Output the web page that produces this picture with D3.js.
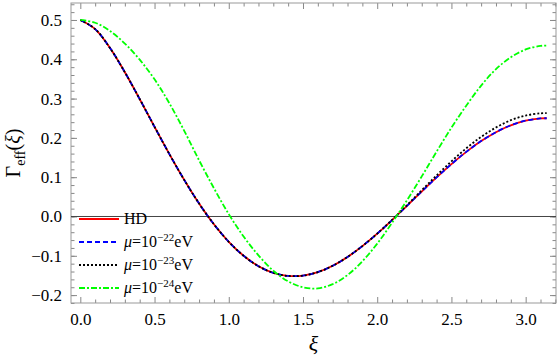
<!DOCTYPE html>
<html>
<head>
<meta charset="utf-8">
<script src="https://cdn.jsdelivr.net/npm/d3@7"></script>
<style>
body { margin: 0; background: #fff; }
svg text { font-family: "Liberation Serif", "DejaVu Serif", serif !important; fill: #000; }
</style>
</head>
<body>
<div id="chart"></div>
<script>
var width = 560;
var height = 361;

// angular separation xi (rad)
var xiValues = [0, 0.1, 0.2, 0.3, 0.4, 0.5, 0.6, 0.7, 0.8, 0.9, 1.0, 1.1, 1.2, 1.3, 1.4, 1.5,
    1.6, 1.7, 1.8, 1.9, 2.0, 2.1, 2.2, 2.3, 2.4, 2.5, 2.6, 2.7, 2.8, 2.9, 3.0, 3.1, 3.1416];

// Hellings-Downs curve
var hdValues = [0.5000, 0.4769, 0.4286, 0.3671, 0.2988, 0.2282, 0.1588, 0.0931, 0.0330, -0.0198,
    -0.0644, -0.1000, -0.1264, -0.1434, -0.1512, -0.1504, -0.1415, -0.1254, -0.1029, -0.0753,
    -0.0437, -0.0092, 0.0270, 0.0636, 0.0994, 0.1334, 0.1645, 0.1918, 0.2145, 0.2320,
    0.2438, 0.2495, 0.2500];

// mu = 1e-22 eV
var mu22Values = [0.5000, 0.4769, 0.4286, 0.3671, 0.2988, 0.2282, 0.1588, 0.0931, 0.0330, -0.0198,
    -0.0644, -0.1000, -0.1264, -0.1434, -0.1512, -0.1504, -0.1415, -0.1254, -0.1029, -0.0753,
    -0.0437, -0.0092, 0.0270, 0.0636, 0.0994, 0.1334, 0.1645, 0.1918, 0.2145, 0.2320,
    0.2438, 0.2495, 0.2500];

// mu = 1e-23 eV
var mu23Values = [0.5000, 0.4769, 0.4286, 0.3671, 0.2988, 0.2282, 0.1588, 0.0931, 0.0330, -0.0198,
    -0.0644, -0.1000, -0.1264, -0.1434, -0.1512, -0.1504, -0.1415, -0.1254, -0.1029, -0.0753,
    -0.0437, -0.0085, 0.0285, 0.0668, 0.1044, 0.1404, 0.1735, 0.2025, 0.2265, 0.2450,
    0.2568, 0.2625, 0.2630];

// mu = 1e-24 eV
var mu24Values = [0.500, 0.493, 0.472, 0.440, 0.399, 0.349, 0.288, 0.218, 0.143, 0.072,
    0.006, -0.051, -0.099, -0.138, -0.165, -0.180, -0.183, -0.172, -0.149, -0.114,
    -0.069, -0.016, 0.041, 0.102, 0.165, 0.226, 0.282, 0.333, 0.375, 0.405,
    0.425, 0.434, 0.435];

var xTicks = [0, 0.5, 1.0, 1.5, 2.0, 2.5, 3.0];
var yTicks = [-0.2, -0.1, 0.0, 0.1, 0.2, 0.3, 0.4, 0.5];
var legendExponents = [null, "\u221222", "\u221223", "\u221224"];

document.addEventListener("DOMContentLoaded", function(event) {

    var plot = {left: 71, right: 556, top: 3, bottom: 303};
    var serif = "'Liberation Serif', 'DejaVu Serif', serif";

    var svg = d3.select("#chart")
        .append("svg")
        .attr("width", width)
        .attr("height", height);

    var x = d3.scaleLinear()
        .domain([-0.0628, 3.2044])
        .range([plot.left, plot.right]);

    var y = d3.scaleLinear()
        .domain([-0.2201, 0.5432])
        .range([plot.bottom, plot.top]);

    svg.append("clipPath")
        .attr("id", "clip")
        .append("rect")
        .attr("x", plot.left)
        .attr("y", plot.top)
        .attr("width", plot.right - plot.left)
        .attr("height", plot.bottom - plot.top);

    // minor ticks
    var xMinor = d3.range(1, 33).map(d => d / 10).filter(d => d % 0.5 > 0.01 && d % 0.5 < 0.49);
    var yMinor = d3.range(-11, 28).map(d => d / 50);

    var tickColor = "#888";

    function drawTicks(g) {
        g.attr("font-family", serif);
        g.selectAll("line").attr("stroke", tickColor);
        g.select(".domain").remove();
    }

    // bottom
    svg.append("g")
        .attr("transform", "translate(0," + plot.bottom + ")")
        .call(d3.axisBottom(x).tickValues(xTicks).tickSize(-6).tickPadding(10).tickFormat(d3.format(".1f")))
        .call(drawTicks)
        .selectAll("text")
        .style("font-size", "17px");
    svg.append("g")
        .attr("transform", "translate(0," + plot.bottom + ")")
        .call(d3.axisBottom(x).tickValues(xMinor).tickSize(-3.5).tickFormat(""))
        .call(drawTicks);
    // top
    svg.append("g")
        .attr("transform", "translate(0," + plot.top + ")")
        .call(d3.axisTop(x).tickValues(xTicks).tickSize(-6).tickFormat(""))
        .call(drawTicks);
    svg.append("g")
        .attr("transform", "translate(0," + plot.top + ")")
        .call(d3.axisTop(x).tickValues(xMinor).tickSize(-3.5).tickFormat(""))
        .call(drawTicks);
    // left
    svg.append("g")
        .attr("transform", "translate(" + plot.left + ",0)")
        .call(d3.axisLeft(y).tickValues(yTicks).tickSize(-6).tickPadding(9).tickFormat(d3.format(".1f")))
        .call(drawTicks)
        .selectAll("text")
        .style("font-size", "17px");
    svg.append("g")
        .attr("transform", "translate(" + plot.left + ",0)")
        .call(d3.axisLeft(y).tickValues(yMinor).tickSize(-3.5).tickFormat(""))
        .call(drawTicks);
    // right
    svg.append("g")
        .attr("transform", "translate(" + plot.right + ",0)")
        .call(d3.axisRight(y).tickValues(yTicks).tickSize(-6).tickFormat(""))
        .call(drawTicks);
    svg.append("g")
        .attr("transform", "translate(" + plot.right + ",0)")
        .call(d3.axisRight(y).tickValues(yMinor).tickSize(-3.5).tickFormat(""))
        .call(drawTicks);

    // frame
    svg.append("rect")
        .attr("x", plot.left)
        .attr("y", plot.top)
        .attr("width", plot.right - plot.left)
        .attr("height", plot.bottom - plot.top)
        .attr("fill", "none")
        .attr("stroke", "#999")
        .attr("stroke-width", 1);

    // zero line
    svg.append("line")
        .attr("x1", plot.left)
        .attr("x2", plot.right)
        .attr("y1", y(0))
        .attr("y2", y(0))
        .attr("stroke", "#444")
        .attr("stroke-width", 1);

    var series = [
        {values: hdValues, color: "#ff0000", dash: null},
        {values: mu22Values, color: "#0000ff", dash: "5,3"},
        {values: mu23Values, color: "#000000", dash: "2,2"},
        {values: mu24Values, color: "#00ff00", dash: "6,2,2,2"}
    ];

    var line = d3.line()
        .x(d => x(d[0]))
        .y(d => y(d[1]))
        .curve(d3.curveCatmullRom.alpha(0.5));

    var curves = svg.append("g").attr("clip-path", "url(#clip)");
    series.forEach(function(s) {
        curves.append("path")
            .attr("d", line(xiValues.map((v, i) => [v, s.values[i]])))
            .attr("fill", "none")
            .attr("stroke", s.color)
            .attr("stroke-width", 1.8)
            .attr("stroke-dasharray", s.dash);
    });

    // legend
    var legend = svg.append("g").attr("font-family", serif);
    series.forEach(function(s, i) {
        var ly = 219 + i * 23;
        legend.append("line")
            .attr("x1", 79).attr("x2", 119)
            .attr("y1", ly).attr("y2", ly)
            .attr("stroke", s.color)
            .attr("stroke-width", 1.8)
            .attr("stroke-dasharray", s.dash);
        var t = legend.append("text")
            .attr("x", 124)
            .attr("y", ly + 5)
            .style("font-size", "16px");
        if (legendExponents[i] == null) {
            t.text("HD");
        } else {
            t.append("tspan").style("font-style", "italic").text("\u03bc");
            t.append("tspan").text("=10");
            t.append("tspan").attr("dy", -6).style("font-size", "11px").text(legendExponents[i]);
            t.append("tspan").attr("dy", 6).text("eV");
        }
    });

    // axis titles
    svg.append("text")
        .attr("x", (plot.left + plot.right) / 2)
        .attr("y", 351)
        .attr("text-anchor", "middle")
        .style("font-size", "22px")
        .style("font-style", "italic")
        .text("\u03be");

    var yt = svg.append("text")
        .attr("transform", "translate(20," + ((plot.top + plot.bottom) / 2) + ") rotate(-90)")
        .attr("text-anchor", "middle")
        .style("font-size", "20px");
    yt.append("tspan").text("\u0393");
    yt.append("tspan").attr("dy", 5).style("font-size", "14px").text("eff");
    yt.append("tspan").attr("dy", -5).text("(");
    yt.append("tspan").style("font-style", "italic").text("\u03be");
    yt.append("tspan").text(")");
});
</script>
</body>
</html>
